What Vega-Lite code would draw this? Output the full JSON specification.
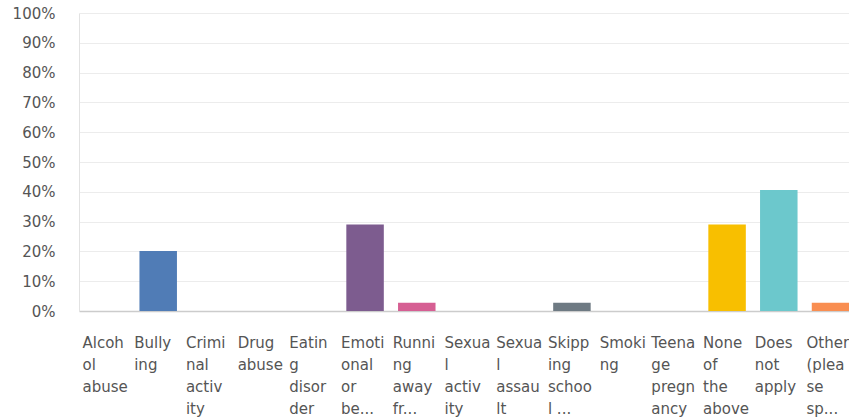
{
  "$schema": "https://vega.github.io/schema/vega-lite/v6.json",
  "autosize": {"type": "none"},
  "padding": {"left": 79, "top": 13, "right": 0, "bottom": 108},
  "width": 770,
  "height": 298,
  "background": "white",
  "data": {
    "values": [
      {"category": "Alcohol abuse", "pct": 0},
      {"category": "Bullying", "pct": 0.201},
      {"category": "Criminal activity", "pct": 0},
      {"category": "Drug abuse", "pct": 0},
      {"category": "Eating disorder", "pct": 0},
      {"category": "Emotional or behavioral problems", "pct": 0.29},
      {"category": "Running away from home", "pct": 0.028},
      {"category": "Sexual activity", "pct": 0},
      {"category": "Sexual assault", "pct": 0},
      {"category": "Skipping school", "pct": 0.028},
      {"category": "Smoking", "pct": 0},
      {"category": "Teenage pregnancy", "pct": 0},
      {"category": "None of the above", "pct": 0.29},
      {"category": "Does not apply", "pct": 0.406},
      {"category": "Other (please specify)", "pct": 0.028}
    ]
  },
  "config": {
    "view": {"stroke": null},
    "font": "DejaVu Sans"
  },
  "mark": {"type": "bar"},
  "encoding": {
    "x": {
      "field": "category",
      "type": "nominal",
      "sort": null,
      "scale": {"range": [0, 779], "paddingInner": 0.275, "paddingOuter": 0.169},
      "axis": {
        "title": null,
        "ticks": false,
        "domainColor": "#cccccc",
        "domainWidth": 1.5,
        "labelAngle": 0,
        "labelAlign": "left",
        "labelBaseline": "top",
        "labelOffset": -24,
        "labelPadding": 24,
        "labelFontSize": 15,
        "labelLineHeight": 22,
        "labelColor": "#555555",
        "labelOverlap": false,
        "labelFlush": false,
        "labelExpr": "({'Alcohol abuse':['Alcoh','ol','abuse'],'Bullying':['Bully','ing'],'Criminal activity':['Crimi','nal','activ','ity'],'Drug abuse':['Drug','abuse'],'Eating disorder':['Eatin','g','disor','der'],'Emotional or behavioral problems':['Emoti','onal','or','be...'],'Running away from home':['Runni','ng','away','fr...'],'Sexual activity':['Sexua','l','activ','ity'],'Sexual assault':['Sexua','l','assau','lt'],'Skipping school':['Skipp','ing','schoo','l ...'],'Smoking':['Smoki','ng'],'Teenage pregnancy':['Teena','ge','pregn','ancy'],'None of the above':['None','of','the','above'],'Does not apply':['Does','not','apply'],'Other (please specify)':['Other','(plea','se','sp...']})[datum.value]"
      }
    },
    "y": {
      "field": "pct",
      "type": "quantitative",
      "scale": {"domain": [0, 1]},
      "axis": {
        "title": null,
        "values": [0, 0.1, 0.2, 0.3, 0.4, 0.5, 0.6, 0.7, 0.8, 0.9, 1],
        "format": ".0%",
        "ticks": false,
        "domain": true,
        "domainColor": "#e2e2e2",
        "gridColor": "#ececec",
        "labelPadding": 24,
        "labelFontSize": 15,
        "labelColor": "#555555"
      }
    },
    "color": {
      "field": "category",
      "type": "nominal",
      "legend": null,
      "scale": {
        "domain": ["Alcohol abuse", "Bullying", "Criminal activity", "Drug abuse", "Eating disorder", "Emotional or behavioral problems", "Running away from home", "Sexual activity", "Sexual assault", "Skipping school", "Smoking", "Teenage pregnancy", "None of the above", "Does not apply", "Other (please specify)"],
        "range": ["#6bc8cd", "#507cb6", "#f9be00", "#f88e52", "#6bc8cd", "#7d5c8f", "#d65f93", "#507cb6", "#f9be00", "#6e7a83", "#d65f93", "#7d5c8f", "#f8bf00", "#6cc8cc", "#f98e51"]
      }
    }
  }
}
